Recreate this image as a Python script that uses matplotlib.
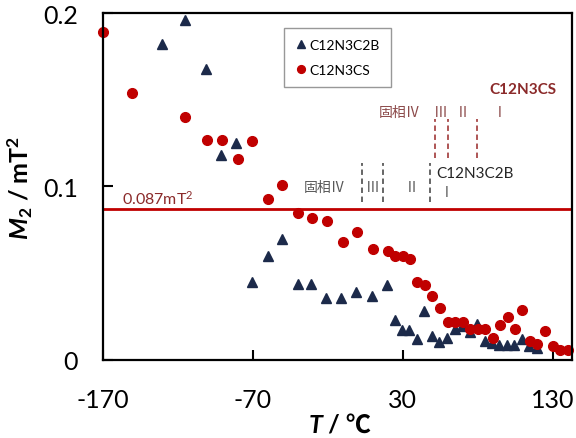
import matplotlib
matplotlib.use("Agg")
import matplotlib.pyplot as plt
from matplotlib.offsetbox import TextArea, HPacker, AnchoredOffsetbox

plt.rcParams['font.family'] = ['Lato', 'Noto Sans CJK JP', 'DejaVu Sans']
plt.rcParams['axes.unicode_minus'] = False
plt.rcParams['mathtext.fontset'] = 'custom'
plt.rcParams['mathtext.rm'] = 'Lato'
plt.rcParams['mathtext.it'] = 'Lato:italic'
plt.rcParams['mathtext.bf'] = 'Lato:bold'
plt.rcParams['mathtext.bfit'] = 'Lato:bold:italic'

# C12N3CS (red circles)
cs_T = [-170, -150.5, -115, -100.5, -90.5, -80, -70.5, -60, -50.5, -40, -30.5, -20.5,
        -10, -0.5, 10, 20, 25, 30, 35, 39.5, 45, 49.5, 54.7, 59.8, 65, 70, 75, 80, 85,
        90, 95, 100, 104.7, 109.5, 115, 119.5, 124.7, 130, 135, 140]
cs_M = [0.189, 0.154, 0.140, 0.127, 0.127, 0.116, 0.126, 0.093, 0.101, 0.085, 0.082, 0.080,
        0.068, 0.074, 0.064, 0.063, 0.060, 0.060, 0.058, 0.045, 0.043, 0.037, 0.030, 0.022,
        0.022, 0.022, 0.018, 0.018, 0.018, 0.0125, 0.020, 0.025, 0.018, 0.029, 0.011, 0.009,
        0.0165, 0.008, 0.0055, 0.0055]

# C12N3C2B (navy triangles)
c2b_T = [-130.5, -115.3, -101, -91, -81, -70.7, -60.2, -50.9, -40.2, -31, -21, -11, -1,
         9.3, 19.3, 25, 29.2, 34.2, 39.1, 44, 49.3, 54.2, 59.3, 64.5, 69.3, 74.5, 79.5,
         84.4, 89.3, 94.2, 99.1, 104.2, 109.1, 114.2, 119.1]
c2b_M = [0.182, 0.196, 0.168, 0.118, 0.125, 0.045, 0.060, 0.070, 0.044, 0.044, 0.036, 0.036,
         0.039, 0.037, 0.043, 0.023, 0.017, 0.017, 0.012, 0.028, 0.014, 0.0105, 0.0127, 0.0177,
         0.0198, 0.016, 0.0205, 0.011, 0.0096, 0.0086, 0.0086, 0.0086, 0.0121, 0.0082, 0.0067]

threshold = 0.087
c2b_trans = [3, 16.5, 48]      # phase transitions, C12N3C2B
cs_trans = [51.3, 59.8, 79.5]  # phase transitions, C12N3CS
x_ticks = [-170, -70, 30, 130]
y_ticks = [0, 0.1, 0.2]
y_ticklabels = ['0', '0.1', '0.2']

navy = '#1c2a4a'
red = '#c00000'
gray = '#595959'
brown = '#8c4a4a'
darkred = '#8b2a2a'
cjk = ['Noto Sans CJK JP', 'DejaVu Sans']

fig = plt.figure(figsize=(5.76, 4.39), dpi=100)
ax = fig.add_axes([0.1788, 0.1777, 0.8142, 0.7904])

ax.plot(c2b_T, c2b_M, ls='none', marker='^', ms=6.5, color=navy, label='C12N3C2B', clip_on=False)
ax.plot(cs_T, cs_M, ls='none', marker='o', ms=7, color=red, label='C12N3CS', clip_on=False)

ax.axhline(threshold, color=red, lw=2, zorder=1)
ax.text(-157, 0.0935, '0.087mT$^2$', color=darkred, fontsize=11.5, va='center', ha='left')

# C12N3C2B phase annotations
for t in c2b_trans:
    ax.plot([t, t], [0.091, 0.1135], ls=(0, (3, 2)), color=gray, lw=1.3)
ax.text(-22, 0.0997, '固相Ⅳ', color=gray, fontsize=10, ha='center', va='center', family=cjk)
ax.text(10, 0.0997, 'Ⅲ', color=gray, fontsize=10, ha='center', va='center', family=cjk)
ax.text(36, 0.0997, 'Ⅱ', color=gray, fontsize=10, ha='center', va='center', family=cjk)
ax.text(52.5, 0.108, 'C12N3C2B', color='#262626', fontsize=11, ha='left', va='center')
ax.text(59.5, 0.097, 'Ⅰ', color=gray, fontsize=10, ha='center', va='center', family=cjk)

# C12N3CS phase annotations
for t in cs_trans:
    ax.plot([t, t], [0.1164, 0.139], ls=(0, (3, 2)), color='#a84848', lw=1.3)
ax.text(28, 0.143, '固相Ⅳ', color=brown, fontsize=10, ha='center', va='center', family=cjk)
ax.text(55.5, 0.143, 'Ⅲ', color=brown, fontsize=10, ha='center', va='center', family=cjk)
ax.text(70, 0.143, 'Ⅱ', color=brown, fontsize=10, ha='center', va='center', family=cjk)
ax.text(94.7, 0.143, 'Ⅰ', color=brown, fontsize=10, ha='center', va='center', family=cjk)
ax.text(110, 0.156, 'C12N3CS', color=darkred, fontsize=11, ha='center', va='center',
        fontweight='bold')

ax.set_xlim(-170, 142.7)
ax.set_ylim(0, 0.2)
ax.set_xticks(x_ticks)
ax.set_yticks(y_ticks)
ax.set_yticklabels(y_ticklabels)
ax.tick_params(direction='in', length=7, width=1.5, labelsize=18)
ax.tick_params(axis='x', pad=20)
ax.tick_params(axis='y', pad=18)
for s in ax.spines.values():
    s.set_linewidth(1.6)

ax.set_ylabel(r'$\mathbfit{M}_\mathbf{2}$ / mT$^\mathbf{2}$', fontsize=18, fontweight='bold',
              labelpad=6)

# x label: italic T plus "/ ℃" (℃ needs the CJK fallback font)
xlab = HPacker(children=[
    TextArea('T', textprops=dict(fontsize=18, fontweight='bold', fontstyle='italic')),
    TextArea(' / ℃', textprops=dict(fontsize=18, fontweight='bold',
                                    family=['Lato', 'Noto Sans CJK JP'])),
], align='baseline', pad=0, sep=0)
fig.add_artist(AnchoredOffsetbox(loc='center', child=xlab, frameon=False, pad=0, borderpad=0,
                                 bbox_to_anchor=(0.59, 0.03), bbox_transform=fig.transFigure))

leg = ax.legend(loc='upper left', bbox_to_anchor=(0.386, 0.957), borderaxespad=0,
                frameon=True, fancybox=False, edgecolor='#7f7f7f', fontsize=10,
                handlelength=0.8, handletextpad=0.2, labelspacing=0.9, borderpad=0.8,
                markerscale=0.8)
leg.get_frame().set_linewidth(1.0)

fig.savefig('out.png', dpi=100)
